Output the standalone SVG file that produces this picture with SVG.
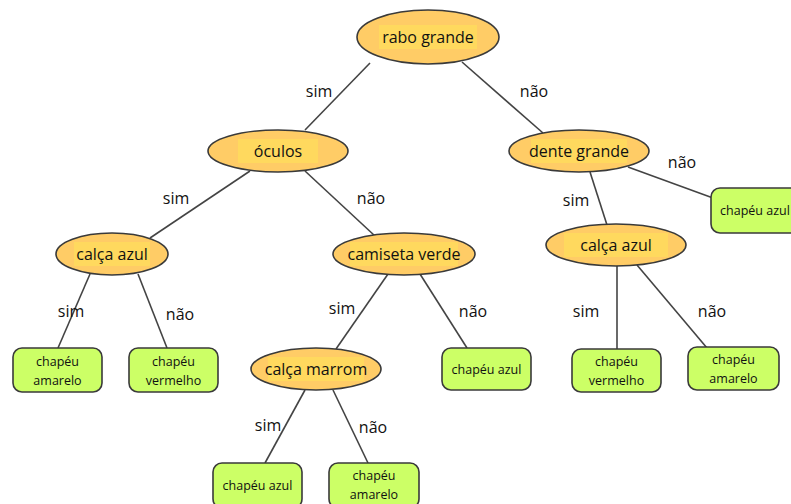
<svg xmlns="http://www.w3.org/2000/svg" width="791" height="504" viewBox="0 0 791 504">
  <style>
    .dec ellipse { fill: #FFCC66; stroke: #3a3a3a; stroke-width: 1.6; }
    .dec rect { fill: #FFD95E; }
    .dec text { font-family: "Open Sans", "Liberation Sans", sans-serif; font-size: 16px; fill: #111; text-anchor: middle; }
    .leaf rect { fill: #CCFF66; stroke: #3a3a3a; stroke-width: 1.6; }
    .leaf text { font-family: "Open Sans", "Liberation Sans", sans-serif; font-size: 12.5px; fill: #111; text-anchor: middle; }
    .edges line { stroke: #444; stroke-width: 1.6; }
    .lbl { font-family: "Open Sans", "Liberation Sans", sans-serif; font-size: 16px; fill: #111; text-anchor: middle; }
  </style>
  <rect width="791" height="504" fill="#ffffff"/>

  <g class="edges">
    <line x1="370" y1="63" x2="305" y2="130"/>
    <line x1="462" y1="62" x2="543" y2="133"/>
    <line x1="250" y1="171" x2="150" y2="238"/>
    <line x1="305" y1="171" x2="375" y2="236"/>
    <line x1="90" y1="274" x2="58" y2="348"/>
    <line x1="138" y1="274" x2="167" y2="348"/>
    <line x1="388" y1="274" x2="336" y2="349"/>
    <line x1="420" y1="274" x2="467" y2="348"/>
    <line x1="305" y1="390" x2="265" y2="463"/>
    <line x1="333" y1="390" x2="368" y2="463"/>
    <line x1="590" y1="172" x2="607" y2="225"/>
    <line x1="628" y1="167" x2="713" y2="198"/>
    <line x1="617" y1="266" x2="617" y2="349"/>
    <line x1="637" y1="265" x2="707" y2="348"/>
  </g>

  <g id="labels">
    <text class="lbl" x="319" y="97">sim</text>
    <text class="lbl" x="534" y="97">não</text>
    <text class="lbl" x="176" y="204">sim</text>
    <text class="lbl" x="371" y="204">não</text>
    <text class="lbl" x="576" y="206">sim</text>
    <text class="lbl" x="682" y="168">não</text>
    <text class="lbl" x="71" y="317">sim</text>
    <text class="lbl" x="180" y="320">não</text>
    <text class="lbl" x="342" y="314">sim</text>
    <text class="lbl" x="473" y="317">não</text>
    <text class="lbl" x="586" y="317">sim</text>
    <text class="lbl" x="712" y="317">não</text>
    <text class="lbl" x="268" y="431">sim</text>
    <text class="lbl" x="373" y="433">não</text>
  </g>

  <g id="rabo-grande" class="dec">
    <ellipse cx="428" cy="37" rx="71" ry="27"/>
    <rect x="379" y="25" width="98" height="24"/>
    <text x="428" y="43">rabo grande</text>
  </g>
  <g id="oculos" class="dec">
    <ellipse cx="278" cy="151" rx="70" ry="21"/>
    <rect x="238" y="139" width="80" height="24"/>
    <text x="278" y="157">óculos</text>
  </g>
  <g id="dente-grande" class="dec">
    <ellipse cx="579" cy="151" rx="70" ry="21"/>
    <rect x="531" y="139" width="96" height="24"/>
    <text x="579" y="157">dente grande</text>
  </g>
  <g id="calca-azul-esq" class="dec">
    <ellipse cx="112" cy="254" rx="56" ry="21"/>
    <rect x="74" y="242" width="76" height="24"/>
    <text x="112" y="260">calça azul</text>
  </g>
  <g id="camiseta-verde" class="dec">
    <ellipse cx="404" cy="254" rx="71" ry="21"/>
    <rect x="350" y="242" width="108" height="24"/>
    <text x="404" y="260">camiseta verde</text>
  </g>
  <g id="calca-azul-dir" class="dec">
    <ellipse cx="616" cy="245" rx="70" ry="21"/>
    <rect x="564" y="233" width="104" height="24"/>
    <text x="616" y="251">calça azul</text>
  </g>
  <g id="calca-marrom" class="dec">
    <ellipse cx="316" cy="369" rx="65" ry="21"/>
    <rect x="268" y="357" width="96" height="24"/>
    <text x="316" y="375">calça marrom</text>
  </g>

  <g id="chapeu-amarelo-1" class="leaf">
    <rect x="13" y="348" width="89" height="44" rx="9"/>
    <text x="57.5" y="366">chapéu</text>
    <text x="57.5" y="385">amarelo</text>
  </g>
  <g id="chapeu-vermelho-1" class="leaf">
    <rect x="129" y="348" width="89" height="44" rx="9"/>
    <text x="173.5" y="366">chapéu</text>
    <text x="173.5" y="385">vermelho</text>
  </g>
  <g id="chapeu-azul-1" class="leaf">
    <rect x="442" y="348" width="89" height="42" rx="9"/>
    <text x="486.5" y="374">chapéu azul</text>
  </g>
  <g id="chapeu-vermelho-2" class="leaf">
    <rect x="572" y="349" width="89" height="43" rx="9"/>
    <text x="616.5" y="366">chapéu</text>
    <text x="616.5" y="385">vermelho</text>
  </g>
  <g id="chapeu-amarelo-2" class="leaf">
    <rect x="688" y="347" width="91" height="43" rx="9"/>
    <text x="733.5" y="364">chapéu</text>
    <text x="733.5" y="383">amarelo</text>
  </g>
  <g id="chapeu-azul-2" class="leaf">
    <rect x="711" y="188" width="90" height="45" rx="9"/>
    <text x="755" y="215">chapéu azul</text>
  </g>
  <g id="chapeu-azul-3" class="leaf">
    <rect x="213" y="463" width="89" height="45" rx="9"/>
    <text x="257.5" y="490">chapéu azul</text>
  </g>
  <g id="chapeu-amarelo-3" class="leaf">
    <rect x="329" y="463" width="90" height="45" rx="9"/>
    <text x="374" y="480">chapéu</text>
    <text x="374" y="499">amarelo</text>
  </g>
</svg>
